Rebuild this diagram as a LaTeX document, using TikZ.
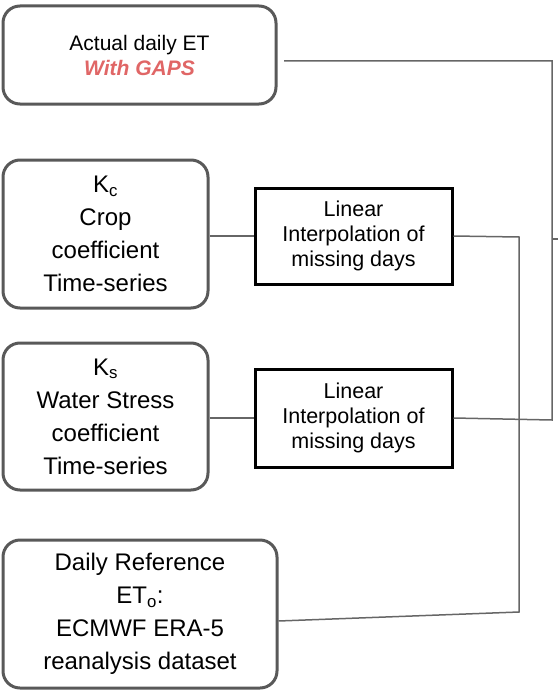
\documentclass[tikz,border=0pt]{standalone}
\usepackage{fontspec}
\setmainfont{Liberation Sans}
\definecolor{bordergray}{HTML}{595959}
\definecolor{linegray}{HTML}{666666}
\definecolor{gapred}{HTML}{E06666}
\begin{document}
\begin{tikzpicture}[x=1pt,y=-1pt,
  roundbox/.style={draw=bordergray,line width=3pt,rounded corners=17pt,align=center,inner sep=0pt},
  interpbox/.style={draw=black,line width=3pt,align=center,inner sep=0pt,minimum width=197pt,minimum height=96pt,font=\fontsize{21.5}{25}\selectfont},
  conn/.style={draw=linegray,line width=1.5pt}]
\useasboundingbox (0,0) rectangle (558,693);
\node[roundbox,minimum width=273pt,minimum height=98pt,font=\fontsize{21}{25}\selectfont] (top) at (139.5,55) {Actual daily ET\\[0pt]\textcolor{gapred}{\textbf{\textit{With GAPS}}}};
\node[roundbox,minimum width=205pt,minimum height=148pt,font=\fontsize{24}{33}\selectfont] (kc) at (105.5,234) {K\textsubscript{c}\\Crop\\coefficient\\Time-series};
\node[roundbox,minimum width=205pt,minimum height=147pt,font=\fontsize{24}{33}\selectfont] (ks) at (105.5,416.5) {K\textsubscript{s}\\Water Stress\\coefficient\\Time-series};
\node[roundbox,minimum width=274pt,minimum height=148pt,font=\fontsize{24}{33}\selectfont] (ref) at (140,614) {Daily Reference\\ET\textsubscript{o}:\\ECMWF ERA-5\\reanalysis dataset};
\node[interpbox] (i1) at (353.5,236) {Linear\\Interpolation of\\missing days};
\node[interpbox,minimum height=98pt] (i2) at (353.5,418) {Linear\\Interpolation of\\missing days};
\coordinate (ta) at (284,61);
\coordinate (tb) at (552,61);
\coordinate (r2) at (552,420);
\coordinate (r1a) at (519,237);
\coordinate (r1b) at (519,612);
\coordinate (tick) at (558,239);
\coordinate (tickb) at (552,239);
\draw[conn] (kc.east |- i1.west) -- (i1.west);
\draw[conn] (ks.east |- i2.west) -- (i2.west);
\draw[conn] (i1.east) -- (r1a) -- (r1b) -- ([yshift=-7pt]ref.east);
\draw[conn] (i2.east) -- (r2) -- (tb) -- (ta);
\draw[conn] (tickb) -- (tick);
\end{tikzpicture}
\end{document}
